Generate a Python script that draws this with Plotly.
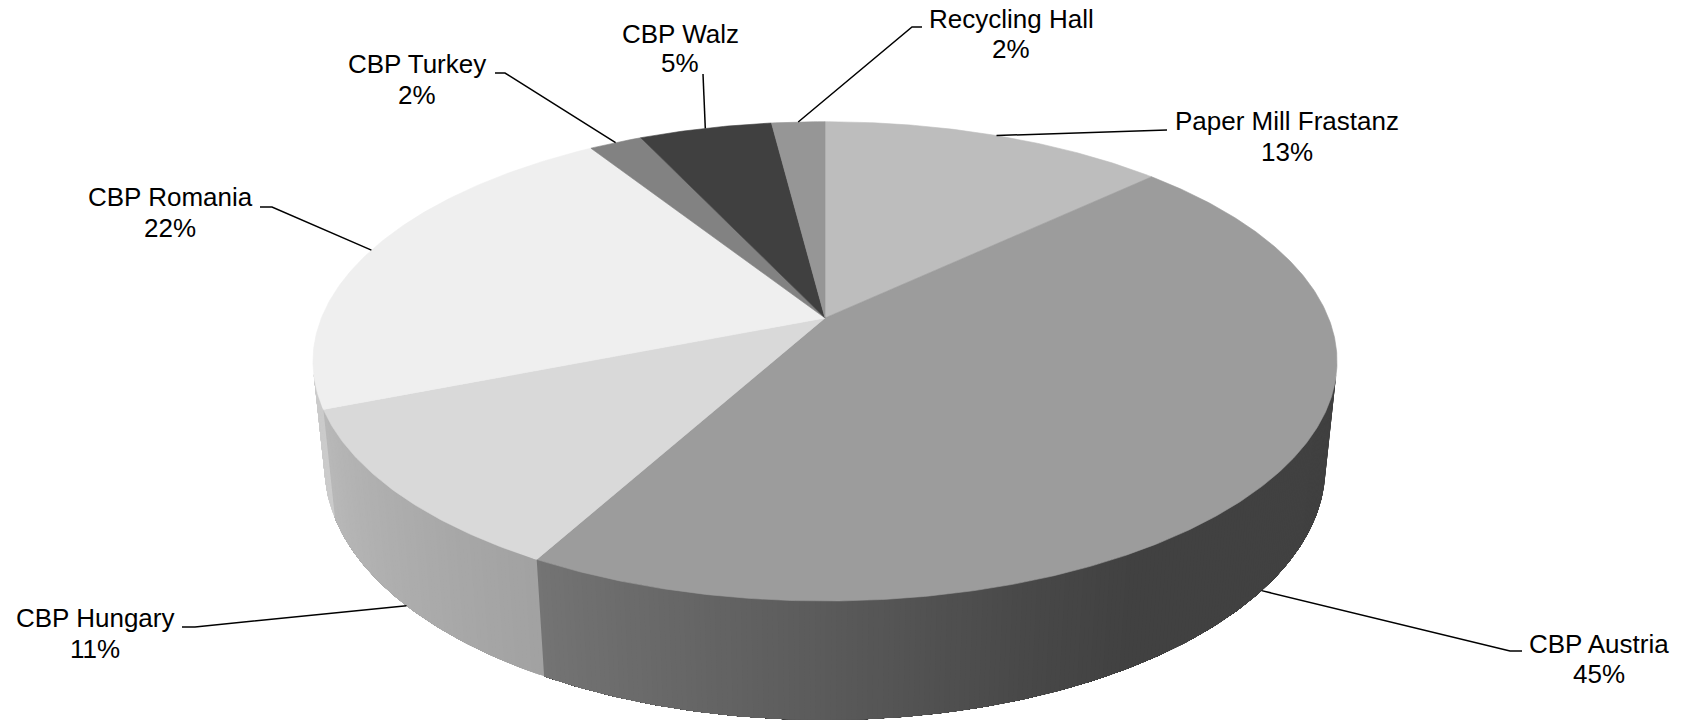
import numpy as np
import plotly.graph_objects as go

# ---------------- data ----------------
labels = ["Paper Mill Frastanz", "CBP Austria", "CBP Hungary", "CBP Romania",
          "CBP Turkey", "CBP Walz", "Recycling Hall"]
values = [13, 45, 11, 22, 2, 5, 2]
pct_text = ["13%", "45%", "11%", "22%", "2%", "5%", "2%"]

# ---------------- style ----------------
top_colors = [189, 156, 217, 239, 130, 64, 150]   # grey levels of the slice tops
# wall shading multiplier vs angle (deg, clockwise from 12 o'clock)
shade_ang = [100, 150, 160, 180, 209, 248, 260]
shade_mul = [0.41, 0.42, 0.46, 0.58, 0.745, 0.85, 0.85]

# camera / projection (pixel space)
W, H = 1691, 721
CX, CY = 825.0, 318.0          # screen position of pie centre
PHI = np.arcsin(0.4603)        # elevation
DIST = 4.908                   # camera distance (in radii)
FOC = 2471.6                   # focal length in px
DEPTH = 0.238                  # pie thickness (in radii)

# label placement (layout only): text centre x, line1 y, line2 y, leader path after anchor
label_layout = {
    "Paper Mill Frastanz": dict(tx=1287, y1=121, y2=152, path=[(1167, 130)]),
    "CBP Austria":         dict(tx=1599, y1=644, y2=674, path=[(1510, 651), (1522, 651)]),
    "CBP Hungary":         dict(tx=95,   y1=618, y2=649, path=[(195, 627), (182, 627)]),
    "CBP Romania":         dict(tx=170,  y1=197, y2=228, path=[(272, 207), (260, 207)]),
    "CBP Turkey":          dict(tx=417,  y1=64,  y2=95,  path=[(505, 73), (495, 73)]),
    "CBP Walz":            dict(tx=680,  y1=34,  y2=63,  path=[(703, 74)]),
    "Recycling Hall":      dict(tx=1011, y1=19,  y2=49,  path=[(912, 27), (922, 27)]),
}


def project(theta_deg, z):
    t = np.radians(np.asarray(theta_deg, dtype=float))
    X = np.sin(t)
    Y = np.cos(t)
    s, c = np.sin(PHI), np.cos(PHI)
    yc = Y * s + z * c
    d = DIST + Y * c - z * s
    return CX + FOC * X / d, CY - FOC * yc / d


def grey(v):
    v = int(round(max(0, min(255, v))))
    return f"rgb({v},{v},{v})"


fig = go.Figure()

total = float(sum(values))
starts = np.cumsum([0] + values[:-1]) / total * 360.0
ends = np.cumsum(values) / total * 360.0

# visible part of the outer wall: normal . (camera - P) > 0
cam_y = -DIST * np.cos(PHI)
y_lim = -1.0 / (-cam_y)          # cos(theta) < y_lim
vis_lo = np.degrees(np.arccos(y_lim))
vis_hi = 360.0 - vis_lo

# ---- walls (painter's strips: each strip covers to the slice's far end) ----
for i in range(len(values)):
    a0 = max(starts[i], vis_lo)
    a1 = min(ends[i], vis_hi)
    if a1 <= a0:
        continue
    n = max(2, int(np.ceil((a1 - a0) / 0.5)) + 1)
    edges = np.linspace(a0, a1, n)
    for k in range(n - 1):
        e0 = edges[k]
        th = np.linspace(e0, a1, max(3, int((a1 - e0) * 2) + 1))
        xt, yt = project(th, 0.0)
        xb, yb = project(th[::-1], -DEPTH)
        mul = np.interp(0.5 * (e0 + edges[k + 1]), shade_ang, shade_mul)
        col = grey(top_colors[i] * mul)
        fig.add_trace(go.Scatter(
            x=np.concatenate([xt, xb, xt[:1]]), y=np.concatenate([yt, yb, yt[:1]]),
            mode="lines", fill="toself", fillcolor=col,
            line=dict(color=col, width=0), hoverinfo="skip", showlegend=False))

# ---- tops ----
for i in range(len(values)):
    th = np.linspace(starts[i], ends[i], max(3, int((ends[i] - starts[i]) * 2) + 1))
    xr, yr = project(th, 0.0)
    xs = np.concatenate([[CX], xr, [CX]])
    ys = np.concatenate([[CY], yr, [CY]])
    col = grey(top_colors[i])
    fig.add_trace(go.Scatter(
        x=xs, y=ys, mode="lines", fill="toself", fillcolor=col,
        line=dict(color=col, width=0.6), hoverinfo="skip", showlegend=False,
        name=labels[i]))

# ---- leader lines + labels ----
annotations = []
for i, lab in enumerate(labels):
    mid = 0.5 * (starts[i] + ends[i])
    on_wall = vis_lo < mid < vis_hi
    ax, ay = project(mid, -DEPTH if on_wall else 0.0)
    L = label_layout[lab]
    px = [float(ax)] + [p[0] for p in L["path"]]
    py = [float(ay)] + [p[1] for p in L["path"]]
    fig.add_trace(go.Scatter(x=px, y=py, mode="lines",
                             line=dict(color="black", width=1.5),
                             hoverinfo="skip", showlegend=False))
    for txt, yy in ((lab, L["y1"]), (pct_text[i], L["y2"])):
        annotations.append(dict(
            x=L["tx"], y=yy, xref="x", yref="y", text=txt, showarrow=False,
            xanchor="center", yanchor="middle",
            font=dict(family="Liberation Sans, Arial, sans-serif", size=26, color="black")))

fig.update_layout(
    width=W, height=H,
    margin=dict(l=0, r=0, t=0, b=0),
    paper_bgcolor="white", plot_bgcolor="white",
    xaxis=dict(range=[0, W], visible=False, fixedrange=True),
    yaxis=dict(range=[H, 0], visible=False, fixedrange=True),
    annotations=annotations,
    showlegend=False,
)

fig.write_html("out.html",
               config={"displayModeBar": False},
               post_script="document.body.style.margin='0';document.body.style.overflow='hidden';")
